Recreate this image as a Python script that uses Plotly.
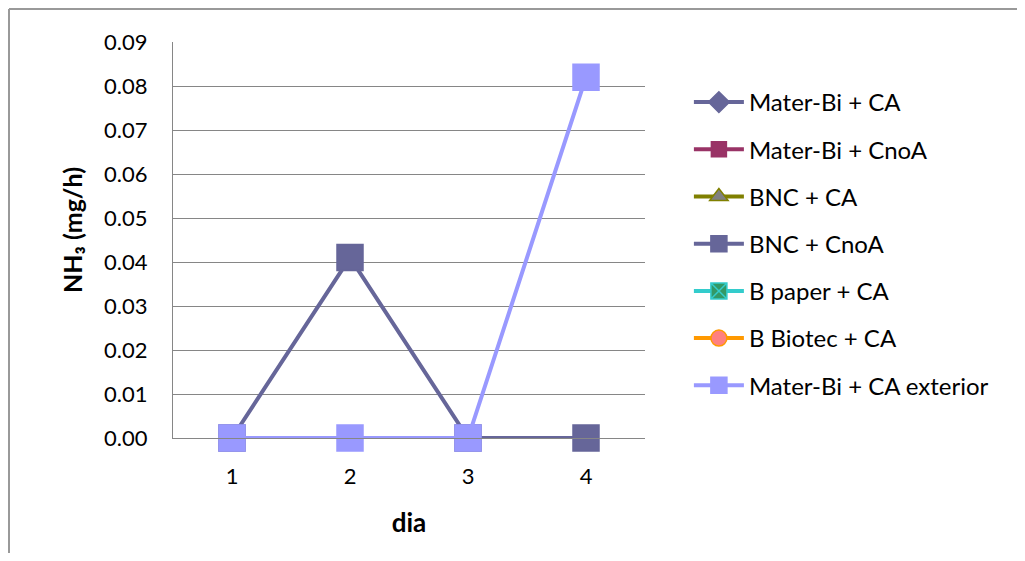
import plotly.graph_objects as go

days = ["1", "2", "3", "4"]
series_names = ["Mater-Bi + CA", "Mater-Bi + CnoA", "BNC + CA", "BNC + CnoA",
                "B paper + CA", "B Biotec + CA", "Mater-Bi + CA exterior"]
mater_bi_ca = [0, 0, 0, None]
mater_bi_cnoa = [0, 0, 0, 0]
bnc_ca = [0, 0, 0, None]
bnc_cnoa = [0, 0.041, 0, 0]
b_paper_ca = [0, 0, 0, None]
b_biotec_ca = [0, 0, 0, None]
mater_bi_ca_ext = [0, 0, 0, 0.082]
y_ticks = [0, 0.01, 0.02, 0.03, 0.04, 0.05, 0.06, 0.07, 0.08, 0.09]

values = [mater_bi_ca, mater_bi_cnoa, bnc_ca, bnc_cnoa, b_paper_ca, b_biotec_ca, mater_bi_ca_ext]
styles = [
    dict(line="#666699", symbol="diamond", fill="#666699", border="#666699", size=17),
    dict(line="#993366", symbol="square", fill="#993366", border="#993366", size=15),
    dict(line="#808000", symbol="triangle-up", fill="#808080", border="#808000", size=18),
    dict(line="#666699", symbol="square", fill="#666699", border="#666699", size=26),
    dict(line="#33CCCC", symbol="square-x", fill="#339966", border="#33CCCC", size=22),
    dict(line="#FF9900", symbol="circle", fill="#FF8080", border="#FF9900", size=16),
    dict(line="#9999FF", symbol="square", fill="#9999FF", border="#9999FF", size=26),
]

fig = go.Figure()
for i, (name, vals, st) in enumerate(zip(series_names, values, styles)):
    fig.add_trace(go.Scatter(
        x=days, y=vals, name=name, mode="lines+markers",
        legendgroup=f"g{i}", cliponaxis=False,
        line=dict(color=st["line"], width=4),
        marker=dict(symbol=st["symbol"], color=st["fill"], size=st["size"],
                    line=dict(color=st["border"], width=1.5)),
    ))

font_family = "Lato, 'Open Sans', sans-serif"

# the page body has an 8px margin; the figure is sized to fit inside the window
W, H = 1017, 545
L, T, PW, PH = 165, 34, 472, 396
fig.update_layout(
    width=W, height=H,
    margin=dict(l=L, r=W - L - PW, t=T, b=H - T - PH),
    paper_bgcolor="white", plot_bgcolor="white",
    font=dict(family=font_family, size=22, color="black"),
    showlegend=True,
    legend=dict(x=1.093, y=0.904, xanchor="left", yanchor="top",
                font=dict(size=24), tracegroupgap=13, itemwidth=50,
                bgcolor="rgba(0,0,0,0)"),
    xaxis=dict(type="category", range=[-0.5, 3.5], showgrid=False,
               showline=True, linecolor="#868686", linewidth=1,
               ticks="", tickfont=dict(size=22), ticklabelstandoff=19,
               title=dict(text="<b>dia</b>", font=dict(size=26), standoff=25)),
    yaxis=dict(range=[0, 0.09], tickvals=y_ticks, tickformat=".2f",
               showgrid=True, gridcolor="#868686", gridwidth=1,
               showline=True, linecolor="#868686", linewidth=1,
               ticks="", tickfont=dict(size=22), zeroline=False,
               ticklabelstandoff=20),
    annotations=[dict(text="<b>NH₃ (mg/h)</b>", xref="paper", yref="paper",
                      x=(64 - L) / PW, y=(T + PH - 222) / PH,
                      xanchor="center", yanchor="middle", textangle=-90,
                      showarrow=False, font=dict(size=25))],
    shapes=[
        dict(type="line", xref="paper", yref="paper",
             x0=(1 - L) / PW, x1=(W - L) / PW,
             y0=(T + PH - 1) / PH, y1=(T + PH - 1) / PH,
             line=dict(color="#999999", width=2), layer="below"),
        dict(type="line", xref="paper", yref="paper",
             x0=(1 - L) / PW, x1=(1 - L) / PW,
             y0=(T + PH - H) / PH, y1=(T + PH - 1) / PH,
             line=dict(color="#999999", width=2), layer="below"),
    ],
)

fig.write_html("out.html")
